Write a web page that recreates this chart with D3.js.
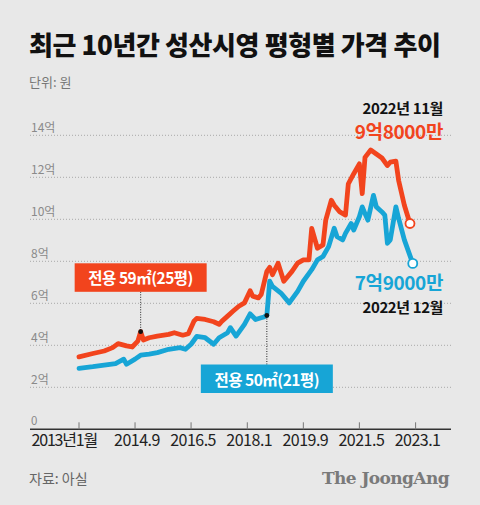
<!DOCTYPE html>
<html><head><meta charset="utf-8">
<script src="https://cdn.jsdelivr.net/npm/d3@7"></script>
<style>
html,body{margin:0;padding:0;background:#e8e8e8;}
svg{display:block;}
</style></head>
<body>
<svg id="c" width="480" height="505"></svg>
<script>
// ---- data (억 원) ----
const series59Dates = ["2013-01","2013-06","2013-10","2014-01","2014-03","2014-06","2014-08","2014-10","2014-11","2014-12","2015-02","2015-05","2015-09","2015-11","2016-02","2016-04","2016-06","2016-07","2016-10","2017-01","2017-03","2017-04","2017-06","2017-08","2017-10","2017-12","2018-02","2018-03","2018-05","2018-06","2018-08","2018-09","2018-10","2018-12","2019-02","2019-05","2019-07","2019-09","2019-11","2019-12","2020-02","2020-04","2020-05","2020-07","2020-08","2020-10","2020-12","2021-01","2021-03","2021-05","2021-06","2021-07","2021-09","2021-11","2022-01","2022-03","2022-04","2022-06","2022-07","2022-09","2022-11"];
const series59Values = [3.45,3.61,3.73,3.89,4.08,3.97,3.92,4.2,4.65,4.25,4.36,4.44,4.52,4.6,4.48,4.55,5.15,5.28,5.23,5.12,5.0,5.15,5.39,5.63,5.86,6.02,6.6,6.34,6.26,6.42,7.52,7.71,7.36,7.91,7.05,7.52,7.91,8.07,8.07,9.57,8.62,8.78,9.96,10.91,10.67,10.35,10.2,11.69,12.17,12.64,11.22,12.95,13.3,13.11,12.92,12.56,12.72,12.77,11.85,10.67,9.8];
const series50Dates = ["2013-01","2013-06","2013-10","2014-02","2014-05","2014-06","2014-09","2014-11","2015-02","2015-05","2015-09","2016-01","2016-03","2016-05","2016-07","2016-10","2017-01","2017-03","2017-06","2017-07","2017-09","2017-12","2018-02","2018-04","2018-06","2018-07","2018-08","2018-09","2018-10","2019-01","2019-04","2019-07","2019-09","2019-12","2020-02","2020-04","2020-06","2020-08","2020-09","2020-11","2020-12","2021-02","2021-03","2021-05","2021-06","2021-07","2021-08","2021-10","2021-11","2022-01","2022-02","2022-03","2022-04","2022-06","2022-07","2022-09","2022-12"];
const series50Values = [2.9,2.98,3.06,3.13,3.34,3.1,3.34,3.53,3.58,3.65,3.81,3.89,3.81,4.05,4.42,4.36,4.05,4.36,4.6,4.84,4.44,5.0,5.5,5.23,5.31,5.35,5.42,7.05,6.81,6.49,6.02,6.57,7.05,7.6,8.07,8.23,8.7,9.57,9.17,9.02,9.33,9.8,9.49,10.12,10.59,10.27,9.96,11.14,10.59,10.35,10.2,8.86,9.02,10.59,10.04,9.02,7.9];
const yTickValues = [0,2,4,6,8,10,12,14];
const yTickLabels = ["0","2억","4억","6억","8억","10억","12억","14억"];
const xTickDates = ["2013-01","2014-09","2016-05","2018-01","2019-09","2021-05","2023-01"];
const xTickLabels = ["2013년1월","2014.9","2016.5","2018.1","2019.9","2021.5","2023.1"];
const seriesNames = ["전용 59㎡(25평)","전용 50㎡(21평)"];
const annotationDates = ["2014-11","2018-08"];
const endLabels59 = ["2022년 11월","9억8000만"];
const endLabels50 = ["7억9000만","2022년 12월"];

const RED = "#f2441d", BLUE = "#17a5d6";
const KR = "'Noto Sans CJK KR','Noto Sans',sans-serif";
const parse = d3.timeParse("%Y-%m");
const svg = d3.select("#c");

const x = d3.scaleTime().domain([parse("2013-01"), parse("2023-01")]).range([79, 415.6]);
const y = d3.scaleLinear().domain([0, 14]).range([429.3, 135.3]);

// title
svg.append("text").attr("x", 29).attr("y", 55).attr("font-family", KR).attr("font-weight", 900)
  .attr("font-size", 26).attr("letter-spacing", -0.4).attr("fill", "#111").text("최근 10년간 성산시영 평형별 가격 추이");
svg.append("text").attr("x", 29).attr("y", 87).attr("font-family", KR).attr("font-size", 13)
  .attr("fill", "#777").text("단위: 원");

// grid
const grid = svg.append("g");
yTickValues.forEach((v, i) => {
  if (v > 0) {
    grid.append("line").attr("x1", 30).attr("x2", 451).attr("y1", y(v)).attr("y2", y(v))
      .attr("stroke", "#a8a8a8").attr("stroke-width", 1).attr("stroke-dasharray", "1,2");
  }
  grid.append("text").attr("x", 31).attr("y", y(v) - (v === 0 ? 4 : 3)).attr("font-family", KR)
    .attr("font-size", v === 0 ? 11.5 : 12).attr("fill", "#8a8a8a").text(yTickLabels[i]);
});

// x axis
const xa = svg.append("g");
xa.append("line").attr("x1", 30).attr("x2", 451).attr("y1", y(0)).attr("y2", y(0))
  .attr("stroke", "#333").attr("stroke-width", 1.5);
xTickDates.forEach((d, i) => {
  const px = x(parse(d));
  xa.append("line").attr("x1", px).attr("x2", px).attr("y1", y(0) - 7).attr("y2", y(0))
    .attr("stroke", "#777").attr("stroke-width", 1);
  xa.append("text").attr("x", i === 0 ? px + 18 : px + 2).attr("y", 446)
    .attr("text-anchor", i === 0 ? "end" : "middle")
    .attr("font-family", KR).attr("font-size", 16).attr("letter-spacing", i === 0 ? -1.2 : -0.5)
    .attr("fill", "#222").text(xTickLabels[i]);
});

// lines
const line = d3.line().x(d => x(d.date)).y(d => y(d.v));
const s59 = series59Dates.map((d, i) => ({date: parse(d), v: series59Values[i]}));
const s50 = series50Dates.map((d, i) => ({date: parse(d), v: series50Values[i]}));
[[s50, BLUE], [s59, RED]].forEach(([s, c]) => {
  svg.append("path").datum(s).attr("d", line).attr("fill", "none").attr("stroke", c)
    .attr("stroke-width", 4.8).attr("stroke-linejoin", "round").attr("stroke-linecap", "round");
});
// end markers
[[s59, RED], [s50, BLUE]].forEach(([s, c]) => {
  const last = s[s.length - 1];
  svg.append("circle").attr("cx", x(last.date)).attr("cy", y(last.v)).attr("r", 4.5)
    .attr("fill", "#fff").attr("stroke", c).attr("stroke-width", 1.8);
});

// annotations
function annot(series, dateStr, name, color, boxTop, above) {
  const pt = series.find(d => +d.date === +parse(dateStr));
  const px = x(pt.date), py = y(pt.v);
  const bw = 132, bh = 28.5;
  const g = svg.append("g");
  const lineY = above ? boxTop + bh : boxTop;
  g.append("line").attr("x1", px).attr("x2", px).attr("y1", lineY).attr("y2", py)
    .attr("stroke", "#222").attr("stroke-width", 1).attr("stroke-dasharray", "1,1.5");
  g.append("circle").attr("cx", px).attr("cy", py).attr("r", 2.4).attr("fill", "#111");
  g.append("rect").attr("x", px - bw / 2).attr("y", boxTop).attr("width", bw).attr("height", bh).attr("fill", color);
  g.append("text").attr("x", px).attr("y", boxTop + 21).attr("text-anchor", "middle")
    .attr("font-family", KR).attr("font-weight", 700).attr("font-size", 15.5).attr("letter-spacing", -0.5)
    .attr("fill", "#fff").text(name);
}
annot(s59, annotationDates[0], seriesNames[0], RED, 263.3, true);
annot(s50, annotationDates[1], seriesNames[1], BLUE, 364.5, false);

// end labels
function endText(txt, yy, size, color) {
  svg.append("text").attr("x", 443).attr("y", yy).attr("text-anchor", "end").attr("font-family", KR)
    .attr("font-weight", 700).attr("font-size", size).attr("letter-spacing", -0.4).attr("fill", color).text(txt);
}
endText(endLabels59[0], 114, 15, "#111");
endText(endLabels59[1], 139, 19, RED);
endText(endLabels50[0], 290, 19, BLUE);
endText(endLabels50[1], 313, 15, "#111");

// footer
svg.append("text").attr("x", 29).attr("y", 484).attr("font-family", KR).attr("font-size", 14)
  .attr("fill", "#666").text("자료: 아실");
svg.append("text").attr("x", 449).attr("y", 484).attr("text-anchor", "end")
  .attr("font-family", "'DejaVu Serif','Liberation Serif',serif").attr("font-weight", 700)
  .attr("font-size", 17).attr("letter-spacing", -0.6).attr("fill", "#7a7a7a").text("The JoongAng");
</script>
</body></html>
